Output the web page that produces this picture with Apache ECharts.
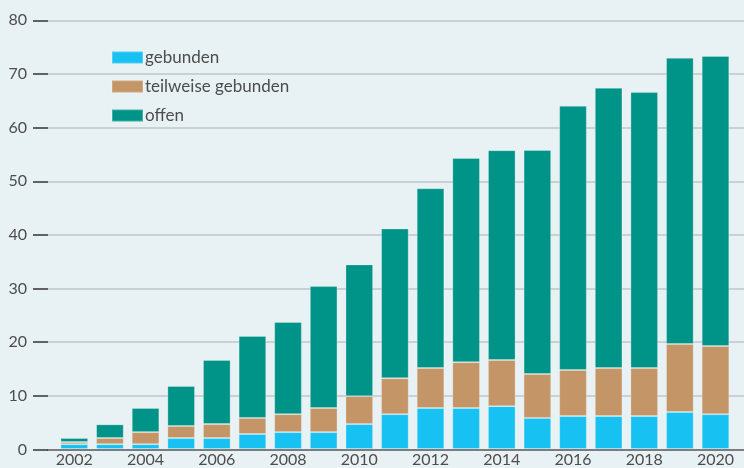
<!DOCTYPE html>
<html>
<head>
<meta charset="utf-8">
<script src="https://cdn.jsdelivr.net/npm/echarts@6/dist/echarts.min.js"></script>
<style>
  html, body { margin: 0; padding: 0; background: #e8f1f3; }
  #chart { width: 744px; height: 468px; }
</style>
</head>
<body>
<div id="chart"></div>
<script>
const years = ["2002", "2003", "2004", "2005", "2006", "2007", "2008", "2009", "2010", "2011",
  "2012", "2013", "2014", "2015", "2016", "2017", "2018", "2019", "2020"];
// Werte
const gebunden = [0.9, 0.9, 0.9, 2.05, 2.05, 2.8, 3.15, 3.15, 4.65, 6.5,
  7.65, 7.65, 8.0, 5.8, 6.15, 6.15, 6.15, 6.9, 6.5];
const teilweise = [0.4, 1.15, 2.25, 2.25, 2.6, 3.0, 3.35, 4.5, 5.2, 6.7,
  7.45, 8.55, 8.6, 8.2, 8.6, 8.95, 8.95, 12.7, 12.7];
const offen = [0.75, 2.55, 4.5, 7.45, 11.95, 15.3, 17.2, 22.75, 24.6, 27.95,
  33.55, 38.1, 39.15, 41.8, 49.3, 52.3, 51.5, 53.4, 54.15];
const yTicks = [0, 10, 20, 30, 40, 50, 60, 70, 80];

const fontFamily = "Lato, 'Open Sans', sans-serif";
const chart = echarts.init(document.getElementById("chart"));

const option = {
  backgroundColor: "#e8f1f3",
  animation: false,
  textStyle: { fontFamily: fontFamily },
  grid: [
    { left: 56.5, right: 10.7, top: 20.3, bottom: 18.5 },
    { left: 48, right: 0, top: 20.3, bottom: 18.5 },
  ],
  legend: {
    orient: "vertical",
    left: 111,
    top: 49,
    padding: 0,
    itemWidth: 31,
    itemHeight: 12,
    itemGap: 12,
    icon: "rect",
    textStyle: {
      fontSize: 17,
      color: "#4d4d4d",
      fontFamily: fontFamily,
      padding: [0, 0, 0, -3],
    },
    data: ["gebunden", "teilweise gebunden", "offen"],
  },
  xAxis: [
    {
      type: "category",
      gridIndex: 0,
      data: years,
      axisLine: { show: false },
      axisTick: { show: false },
      axisLabel: {
        interval: 1,
        margin: 3,
        fontSize: 16,
        color: "#4d4d4d",
        fontFamily: fontFamily,
      },
    },
    {
      type: "value",
      gridIndex: 1,
      min: 0,
      max: 1,
      axisLine: { show: true, lineStyle: { color: "#7c7c7c", width: 2 } },
      axisTick: { show: false },
      axisLabel: { show: false },
      splitLine: { show: false },
    },
  ],
  yAxis: [
    {
      type: "value",
      gridIndex: 0,
      min: yTicks[0],
      max: yTicks[yTicks.length - 1],
      interval: 10,
      show: false,
    },
    {
      type: "value",
      gridIndex: 1,
      min: yTicks[0],
      max: yTicks[yTicks.length - 1],
      interval: 10,
      axisLine: { show: false },
      axisTick: { show: true, length: 15, lineStyle: { color: "#333", width: 1.5 } },
      axisLabel: {
        margin: 21,
        fontSize: 16,
        color: "#4d4d4d",
        fontFamily: fontFamily,
      },
      splitLine: { show: true, lineStyle: { color: "#c3c4c7", width: 1.5 } },
    },
  ],
  series: [
    {
      name: "gebunden",
      type: "bar",
      stack: "total",
      xAxisIndex: 0,
      yAxisIndex: 0,
      barWidth: "77.5%",
      itemStyle: { color: "#17c1f2", borderColor: "rgba(255,255,255,0.25)", borderWidth: 1 },
      data: gebunden,
    },
    {
      name: "teilweise gebunden",
      type: "bar",
      stack: "total",
      xAxisIndex: 0,
      yAxisIndex: 0,
      itemStyle: { color: "#c49566", borderColor: "rgba(255,255,255,0.2)", borderWidth: 1 },
      data: teilweise,
    },
    {
      name: "offen",
      type: "bar",
      stack: "total",
      xAxisIndex: 0,
      yAxisIndex: 0,
      itemStyle: { color: "#009387", borderColor: "rgba(255,255,255,0.25)", borderWidth: 1 },
      data: offen,
    },
  ],
};

chart.setOption(option);
</script>
</body>
</html>
